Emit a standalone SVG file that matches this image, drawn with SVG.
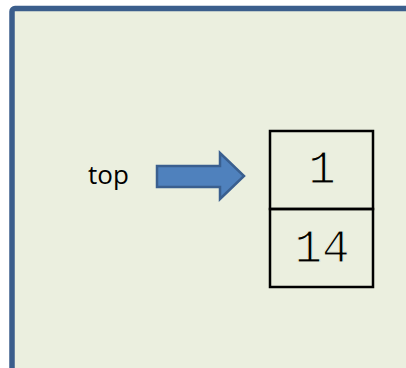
<svg xmlns="http://www.w3.org/2000/svg" width="406" height="368" viewBox="0 0 406 368">
<style>
.cell{fill:none;stroke:#000;stroke-width:2.5}
.num{font-family:"Liberation Mono",monospace;font-size:46px;fill:#000;text-anchor:middle;stroke:#ebefdf;stroke-width:1.2}
.lbl{font-family:"Open Sans","Liberation Sans",sans-serif;font-size:26px;fill:#000}
</style>
<rect x="12" y="8.5" width="420" height="400" rx="3" fill="#ebefdf" stroke="#3b5e8c" stroke-width="5.5"/>
<g id="top">
<text class="lbl" x="88" y="184">top</text>
</g>
<g id="connectors">
<path d="M157,166 H220 V153 L244,176 L220,199 V187 H157 Z" fill="#4f81bd" stroke="#3a5f8f" stroke-width="2.5" stroke-linejoin="miter"/>
</g>
<g id="cell1">
<rect class="cell" x="270" y="131" width="103" height="78"/>
<text class="num" x="322" y="183">1</text>
</g>
<g id="cell14">
<rect class="cell" x="270" y="209" width="103" height="78"/>
<text class="num" x="322" y="262">14</text>
</g>
</svg>
